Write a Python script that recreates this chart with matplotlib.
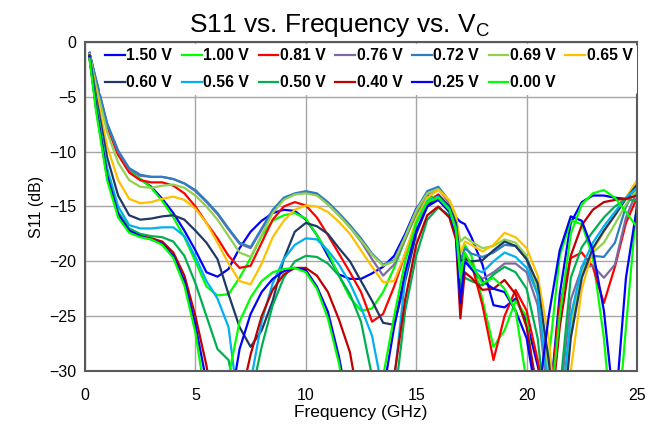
import numpy as np
import matplotlib
matplotlib.use('Agg')
import matplotlib.pyplot as plt

plt.rcParams['font.family'] = ['Liberation Sans', 'DejaVu Sans']

# frequency grid (GHz), shared by every trace
freq = [0.2, 0.5, 1.0, 1.5, 2.0, 2.5, 3.0, 3.5, 4.0, 4.5, 5.0, 5.5, 6.0, 6.5, 7.0, 7.5,
        8.0, 8.5, 9.0, 9.5, 10.0, 10.5, 11.0, 11.5, 12.0, 12.5, 13.0, 13.5, 14.0, 14.5,
        15.0, 15.5, 16.0, 16.5, 16.8, 17.0, 17.2, 17.5, 18.0, 18.5, 19.0, 19.5, 20.0,
        20.5, 21.0, 21.5, 22.0, 22.5, 23.0, 23.5, 24.0, 24.5, 25.0]

# S11 (dB), one list per control voltage
s_150 = [-1.0, -3.6, -7.6, -10.2, -11.7, -12.5, -13.2, -14.3, -15.6, -17.2, -19.0, -21.0, -21.4, -20.7, -18.8, -17.3,
         -16.3, -15.6, -15.3, -15.4, -16.2, -17.6, -19.5, -21.2, -21.6, -21.6, -21.1, -20.5, -19.5, -17.5,
         -15.2, -14.0, -14.3, -15.2, -16.0, -16.4, -16.6, -17.8, -20.3, -24.0, -24.2, -23.4, -25.5,
         -29.5, -34.0, -23.0, -16.5, -14.6, -14.0, -14.0, -14.2, -14.3, -13.8]
s_100 = [-1.0, -3.6, -7.6, -10.2, -11.7, -12.5, -13.3, -14.5, -16.0, -17.8, -20.0, -22.3, -23.1, -23.0, -21.5, -19.7,
         -17.7, -16.3, -15.8, -15.6, -16.1, -17.6, -19.2, -21.3, -23.3, -24.5, -24.3, -22.8, -20.6, -18.0,
         -15.7, -14.3, -14.0, -15.0, -16.8, -22.0, -18.5, -19.5, -23.5, -27.8, -26.3, -23.6, -25.0,
         -34.0, -29.0, -19.5, -16.3, -16.6, -19.6, -27.0, -38.0, -26.0, -14.6]
s_081 = [-1.0, -3.7, -7.7, -10.3, -11.9, -12.6, -12.8, -12.8, -13.1, -13.8, -15.0, -16.5, -17.9, -19.5, -20.6, -20.4,
         -18.3, -16.2, -15.0, -14.6, -14.9, -16.0, -17.6, -19.3, -21.0, -22.8, -25.5, -24.8, -22.3, -19.3,
         -16.5, -14.7, -13.9, -15.0, -16.8, -21.5, -19.5, -20.2, -24.0, -29.0, -25.0, -22.6, -24.5,
         -29.0, -34.0, -24.0, -19.7, -19.2, -20.5, -23.8, -20.5, -16.5, -14.2]
s_076 = [-1.0, -3.5, -7.5, -10.0, -11.6, -12.2, -12.3, -12.3, -12.5, -12.9, -13.6, -14.6, -15.7, -17.1, -18.4, -18.8,
         -17.1, -15.4, -14.3, -13.9, -13.7, -13.9, -14.8, -15.8, -16.9, -18.2, -19.8, -21.3, -20.3, -18.0,
         -15.6, -13.9, -13.4, -14.7, -16.5, -20.5, -19.8, -20.6, -21.6, -21.0, -20.2, -20.2, -21.0,
         -24.0, -33.0, -33.0, -23.5, -20.6, -20.4, -21.5, -20.3, -16.0, -13.6]
s_072 = [-1.0, -3.4, -7.4, -9.9, -11.5, -12.1, -12.3, -12.3, -12.5, -12.9, -13.5, -14.5, -15.6, -17.0, -18.3, -18.7,
         -17.0, -15.3, -14.2, -13.8, -13.6, -13.8, -14.6, -15.6, -16.7, -17.9, -19.3, -20.3, -19.9, -17.7,
         -15.3, -13.6, -13.2, -14.5, -16.2, -20.0, -18.8, -19.3, -19.6, -19.2, -18.5, -18.6, -19.8,
         -23.0, -31.0, -38.0, -26.0, -20.5, -19.5, -19.6, -18.3, -15.0, -13.2]
s_069 = [-1.1, -4.0, -8.2, -11.0, -12.6, -13.2, -13.3, -13.1, -13.0, -13.3, -14.0, -15.0, -16.2, -17.7, -19.2, -19.6,
         -17.6, -15.6, -14.4, -13.9, -13.8, -14.0, -14.8, -15.8, -16.9, -18.1, -19.4, -20.4, -20.0, -17.8,
         -15.4, -13.8, -13.4, -14.5, -16.0, -18.2, -17.8, -18.2, -18.8, -18.6, -18.0, -18.3, -19.5,
         -22.5, -30.5, -37.0, -26.0, -21.0, -19.2, -18.3, -16.6, -14.8, -13.5]
s_065 = [-1.2, -4.5, -9.5, -12.6, -14.3, -14.7, -14.6, -14.3, -14.1, -14.4, -15.2, -16.5, -18.3, -20.2, -21.8, -22.1,
         -20.2, -17.8, -16.3, -15.3, -14.9, -15.0, -15.5, -16.4, -17.5, -19.0, -20.5, -21.9, -21.8, -19.3,
         -16.2, -14.2, -13.5, -14.4, -15.8, -19.3, -18.2, -18.5, -19.1, -18.5, -17.4, -17.8, -18.8,
         -21.3, -27.0, -38.0, -30.0, -22.5, -19.0, -17.3, -15.8, -14.2, -12.6]
s_060 = [-1.2, -5.0, -10.5, -14.0, -15.8, -16.2, -16.1, -15.9, -15.8, -16.2, -17.2, -18.3, -19.8, -23.0, -26.0, -27.8,
         -26.3, -23.6, -19.8, -17.3, -16.5, -16.8, -17.5, -18.8, -20.0, -21.8, -23.6, -25.6, -25.8, -21.8,
         -17.5, -15.0, -14.0, -15.0, -16.5, -20.0, -19.8, -20.0, -19.9, -19.0, -18.2, -18.6, -19.8,
         -22.0, -29.0, -38.0, -27.0, -21.5, -18.8, -17.2, -15.8, -14.3, -13.0]
s_056 = [-1.3, -5.5, -11.5, -15.0, -16.7, -17.0, -17.0, -16.9, -16.9, -17.7, -19.6, -21.8, -23.4, -26.0, -34.0, -31.0,
         -25.5, -22.0, -19.8, -18.5, -17.9, -18.0, -19.0, -20.3, -22.0, -24.2, -26.8, -32.0, -31.0, -21.5,
         -16.5, -14.5, -14.1, -15.2, -17.0, -21.0, -20.0, -20.6, -21.0, -20.0, -19.2, -19.6, -20.6,
         -23.0, -32.0, -35.0, -25.0, -20.5, -18.3, -16.8, -15.5, -14.2, -13.3]
s_050 = [-1.3, -5.8, -12.0, -15.5, -17.0, -17.5, -17.7, -17.8, -18.2, -19.5, -22.0, -25.0, -28.0, -29.0, -34.0, -32.5,
         -27.8, -24.0, -21.5, -20.0, -19.5, -19.6, -20.2, -21.3, -23.0, -25.5, -30.5, -34.0, -33.0, -24.5,
         -19.5, -16.2, -15.1, -15.8, -17.5, -22.5, -21.5, -21.8, -22.2, -21.2, -20.5, -21.0, -22.5,
         -27.0, -36.0, -32.0, -21.5, -18.7, -17.3, -16.0, -15.0, -14.3, -14.5]
s_040 = [-1.4, -6.0, -12.3, -15.8, -17.2, -17.7, -17.9, -18.2, -19.2, -21.3, -25.0, -29.5, -36.0, -38.0, -33.0, -28.5,
         -25.0, -22.6, -21.2, -20.6, -20.6, -21.3, -22.8, -25.3, -28.3, -34.0, -40.0, -38.0, -30.5, -23.5,
         -18.5, -15.8, -15.0, -16.0, -18.0, -25.2, -21.0, -21.5, -22.6, -22.5, -21.7, -23.0, -26.0,
         -32.0, -36.0, -26.0, -19.5, -16.7, -15.3, -14.6, -14.4, -14.3, -14.0]
s_025 = [-1.3, -6.0, -12.2, -15.7, -17.2, -17.7, -18.0, -18.4, -19.5, -21.8, -25.8, -31.0, -38.0, -34.0, -28.0, -24.8,
         -22.8, -21.6, -20.9, -20.6, -20.8, -22.3, -24.6, -28.7, -34.0, -38.0, -38.0, -32.0, -26.0, -21.0,
         -17.2, -15.0, -14.4, -15.5, -17.5, -23.8, -20.0, -20.7, -21.8, -22.5, -22.8, -24.5, -27.0,
         -33.0, -25.0, -19.0, -15.9, -16.3, -19.0, -24.5, -34.0, -21.5, -15.0]
s_000 = [-1.5, -6.3, -12.6, -16.0, -17.4, -17.8, -18.0, -18.5, -19.7, -22.2, -26.5, -33.0, -38.0, -30.5, -25.5, -23.3,
         -21.8, -21.0, -20.7, -20.6, -21.0, -22.5, -25.2, -29.3, -35.0, -40.0, -36.0, -30.5, -25.0, -20.0,
         -16.5, -14.6, -14.2, -15.3, -17.2, -21.5, -19.2, -20.3, -22.0, -21.5, -22.5, -24.5, -31.0,
         -38.0, -35.0, -25.0, -17.5, -14.8, -13.8, -13.5, -14.2, -15.5, -16.9]

labels = ['1.50 V', '1.00 V', '0.81 V', '0.76 V', '0.72 V', '0.69 V', '0.65 V',
          '0.60 V', '0.56 V', '0.50 V', '0.40 V', '0.25 V', '0.00 V']
colors = ['#0000FF', '#00FF00', '#FF0000', '#7F6A9E', '#2E7DC2', '#92D050', '#FFC000',
          '#1F3864', '#00B0F0', '#00B050', '#C00000', '#0000FF', '#00FF00']
series = [s_150, s_100, s_081, s_076, s_072, s_069, s_065,
          s_060, s_056, s_050, s_040, s_025, s_000]

fig = plt.figure(figsize=(6.51, 4.33), dpi=100)
ax = fig.add_axes([0.1306, 0.1432, 0.8479, 0.7598])

lines = []
for s, lab, c in zip(series, labels, colors):
    ln, = ax.plot(freq, s, color=c, lw=1.6, label=lab)
    lines.append(ln)

ax.set_xlim(0, 25)
ax.set_ylim(-30, 0)
ax.set_xticks([0, 5, 10, 15, 20, 25])
ax.set_yticks([0, -5, -10, -15, -20, -25, -30])
ax.grid(True, color='#A6A6A6', lw=1.0)
ax.set_axisbelow(True)
ax.tick_params(length=0, labelsize=11.5)
ax.tick_params(axis='x', pad=12)
ax.tick_params(axis='y', pad=6)
for sp in ax.spines.values():
    sp.set_color('#595959')
    sp.set_linewidth(1.5)

ax.set_xlabel('Frequency (GHz)', fontsize=12.5, labelpad=2)
ax.set_ylabel('S11 (dB)', fontsize=11.5, labelpad=4)
fig.text(0.522, 1 - 32 / 433, r'S11 vs. Frequency vs. V$_\mathregular{C}$',
         fontsize=19, ha='center', va='baseline')

# legend is filled row by row in the reference
order = [0, 7, 1, 8, 2, 9, 3, 10, 4, 11, 5, 12, 6]
leg = ax.legend([lines[i] for i in order], [labels[i] for i in order],
                ncol=7, loc='upper left', bbox_to_anchor=(0.028, 0.995),
                prop={'weight': 'bold', 'size': 11.3}, frameon=True,
                handlelength=1.25, handletextpad=0.1, columnspacing=0.62,
                borderpad=0.3, labelspacing=0.75, borderaxespad=0.0)
leg.get_frame().set_facecolor('white')
leg.get_frame().set_edgecolor('none')
leg.get_frame().set_alpha(1)

fig.savefig('out.png', dpi=100)
